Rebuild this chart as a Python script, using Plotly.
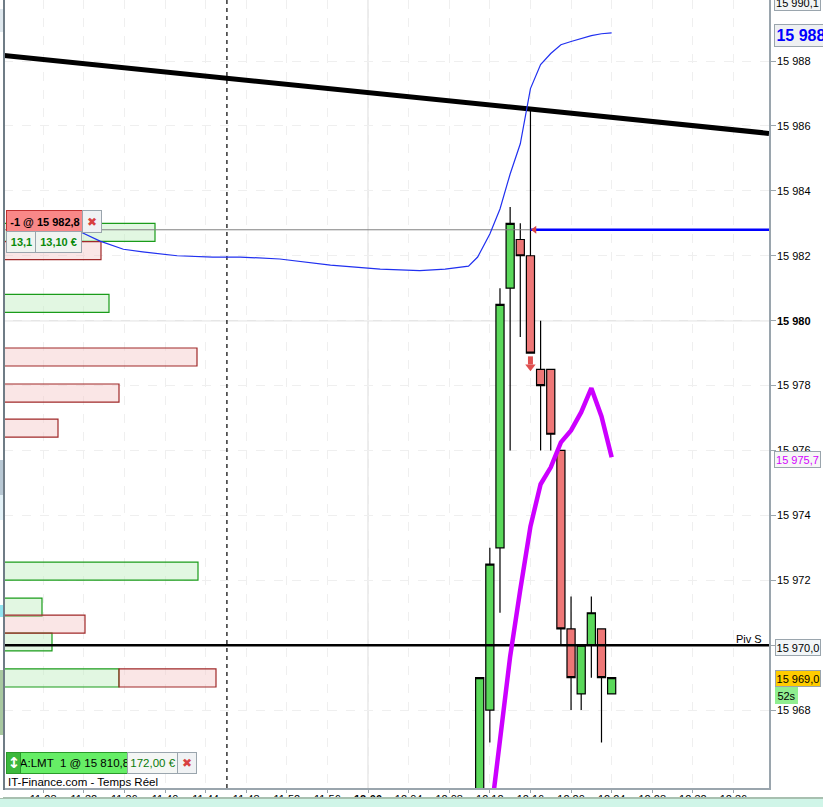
import plotly.graph_objects as go

# ---- data ----
candle_times = [731, 732, 733, 734, 735, 736, 737, 738, 739, 740, 741, 742, 743, 744]
candle_open  = [15964, 15968, 15973, 15981, 15982.5, 15982, 15978.5, 15978.5, 15976, 15970.5, 15968.5, 15970, 15970.5, 15968.5]
candle_high  = [15969, 15973, 15981, 15983.5, 15983, 15986.5, 15980, 15978.5, 15976, 15971.5, 15970, 15971.5, 15970.5, 15969]
candle_low   = [15963, 15967, 15971, 15976, 15979.5, 15979, 15976, 15976, 15970, 15968, 15968, 15969, 15967, 15968.5]
candle_close = [15969, 15972.5, 15980.5, 15983, 15982, 15979, 15978, 15976.5, 15970.5, 15969, 15970, 15971, 15969, 15969]

blue_times = [691.7, 693.6, 695.9, 697.8, 701.2, 704.7, 707.4, 711.3, 716.3, 721.2, 725.1, 727.6, 729.9, 730.8,
              732, 733, 734, 735, 736, 737, 738, 739, 740, 741, 742, 743, 744]
blue_vals = [15982.73, 15982.45, 15982.2, 15982.12, 15982.0, 15981.96, 15981.96, 15981.90, 15981.71, 15981.59,
             15981.54, 15981.59, 15981.68, 15981.96, 15982.67, 15983.44, 15984.52, 15985.45, 15987.15, 15987.89,
             15988.23, 15988.50, 15988.60, 15988.69, 15988.78, 15988.84, 15988.87]

magenta_times = [732, 733, 734, 735, 736, 737, 738, 739, 740, 741, 742, 743, 744]
magenta_vals = [15964.5, 15966.96, 15969.65, 15971.71, 15973.66, 15974.96, 15975.48, 15976.25, 15976.62, 15977.18,
                15977.92, 15977.05, 15975.79]

trend_times = [684.14, 759.5]
trend_vals = [15988.17, 15985.77]

green_levels = [15982.72, 15980.53, 15972.28, 15971.17, 15970.1, 15968.99]
green_volumes = [151, 105, 194, 38, 48, 115]
red_levels = [15982.16, 15978.88, 15977.77, 15976.69, 15970.65, 15968.99]
red_volumes = [97, 193, 115, 54, 81, 97]
red_bases = [0, 0, 0, 0, 0, 115]

y_ticks = [15968, 15970, 15972, 15974, 15976, 15978, 15980, 15982, 15984, 15986, 15988]
y_labels = ["15 968", "15 970", "15 972", "15 974", "15 976", "15 978", "<b>15 980</b>", "15 982", "15 984", "15 986", "15 988"]
x_ticks = [688, 692, 696, 700, 704, 708, 712, 716, 720, 724, 728, 732, 736, 740, 744, 748, 752, 756]
x_labels = ["11:28", "11:32", "11:36", "11:40", "11:44", "11:48", "11:52", "11:56", "<b>12:00</b>", "12:04", "12:08",
            "12:12", "12:16", "12:20", "12:24", "12:28", "12:32", "12:36"]

order_price = 15982.8
pivot_price = 15970
cursor_time = 706.1
order_time = 736.0
exit_price = 15978.6

FONT = "Liberation Sans"
AXIS = "#9aa5ad"
W, H = 823, 807
L, R, T, B = 4, 54, 0, 19
PW = W - L - R
PH = H - T - B

def px(x):
    return (x - L) / PW

def py(y):
    return 1 - (y - T) / PH

fig = go.Figure()

fig.add_trace(go.Bar(orientation="h", y=green_levels, x=green_volumes, width=0.555, xaxis="x", yaxis="y",
                     marker=dict(color="rgba(190,238,190,0.45)", line=dict(color="#1a9c1a", width=1.2)), showlegend=False))
fig.add_trace(go.Bar(orientation="h", y=red_levels, x=red_volumes, base=red_bases, width=0.555, xaxis="x", yaxis="y",
                     marker=dict(color="rgba(245,200,200,0.45)", line=dict(color="#a02828", width=1.2)), showlegend=False))

fig.add_trace(go.Scatter(x=[cursor_time, cursor_time], y=[15965.6, 15989.9], mode="lines", xaxis="x2", yaxis="y",
                         line=dict(color="black", width=1.2, dash="4px,4px"), showlegend=False))
fig.add_trace(go.Scatter(x=[684.14, order_time], y=[order_price, order_price], mode="lines", xaxis="x2", yaxis="y",
                         line=dict(color="#808080", width=1), showlegend=False))
fig.add_trace(go.Scatter(x=[order_time, 759.5], y=[order_price, order_price], mode="lines", xaxis="x2", yaxis="y",
                         line=dict(color="#0000ff", width=2.5), showlegend=False))
fig.add_trace(go.Scatter(x=[684.14, 759.5], y=[pivot_price, pivot_price], mode="lines", xaxis="x2", yaxis="y",
                         line=dict(color="black", width=2.5), showlegend=False))

fig.add_trace(go.Candlestick(x=candle_times, open=candle_open, high=candle_high, low=candle_low, close=candle_close,
                             xaxis="x2", yaxis="y", whiskerwidth=0,
                             increasing=dict(fillcolor="#5ad85a", line=dict(color="black", width=1.2)),
                             decreasing=dict(fillcolor="#ee7777", line=dict(color="black", width=1.2)),
                             showlegend=False))

fig.add_trace(go.Scatter(x=trend_times, y=trend_vals, mode="lines", xaxis="x2", yaxis="y",
                         line=dict(color="black", width=5), showlegend=False))
fig.add_trace(go.Scatter(x=blue_times, y=blue_vals, mode="lines", xaxis="x2", yaxis="y",
                         line=dict(color="#2030f0", width=1.2), showlegend=False))
fig.add_trace(go.Scatter(x=magenta_times, y=magenta_vals, mode="lines", xaxis="x2", yaxis="y",
                         line=dict(color="#cc00ff", width=4.5), showlegend=False))
fig.add_trace(go.Scatter(x=[order_time + 0.4], y=[order_price], mode="markers", xaxis="x2", yaxis="y",
                         marker=dict(symbol="triangle-left", size=7, color="#d84040"), showlegend=False))
fig.add_trace(go.Scatter(x=[order_time, order_time], y=[exit_price + 0.3, exit_price + 0.05], mode="lines", xaxis="x2", yaxis="y",
                         line=dict(color="#e05050", width=5), showlegend=False))
fig.add_trace(go.Scatter(x=[order_time], y=[exit_price - 0.02], mode="markers", xaxis="x2", yaxis="y",
                         marker=dict(symbol="triangle-down", size=9, color="#e05050"), showlegend=False))

def edge(x0, x1, y0, y1, color):
    return dict(type="rect", xref="paper", x0=px(x0), x1=px(x1), yref="paper", y0=py(y1), y1=py(y0), layer="above",
                fillcolor=color, line=dict(width=0))

shapes = [
    dict(type="line", xref="paper", x0=0, x1=1, yref="y", y0=15980, y1=15980, layer="below",
         line=dict(color="#e6e6e6", width=1.5)),
    dict(type="line", xref="x2", x0=720, x1=720, yref="paper", y0=0, y1=1, layer="below",
         line=dict(color="#e6e6e6", width=1.5)),
    # bottom window band that truncates the time labels
    edge(0, W, 798, H + 2, "#d0f5e8"),
    edge(0, W, 797, 799, "#a8c0b0"),
    # left window edge
    edge(0, 3, 0, 798, "white"),
    edge(3, 5, 0, 790, "#6f7c86"),
    edge(0, 3, 9, 32, "#dfe8ee"),
    edge(0, 3, 460, 495, "#b8c8d4"),
    edge(0, 3, 495, 520, "#e4f2f8"),
    edge(0, 3, 605, 617, "#90e4f0"),
    edge(0, 3, 670, 735, "#a8c8a0"),
]

anns = []

def box(x0, y0, w, h, text, bg, fg="black", border="#9aa5ad", size=11, bold=False, family=FONT):
    anns.append(dict(xref="paper", yref="paper", x=px(x0), y=py(y0), xanchor="left", yanchor="top",
                     width=w, height=h, text=f"<b>{text}</b>" if bold else text, showarrow=False, align="center",
                     valign="middle", bgcolor=bg, bordercolor=border, borderwidth=1, borderpad=0,
                     font=dict(family=family, size=size, color=fg)))

def plain(x0, y0, text, size=11, fg="black"):
    anns.append(dict(xref="paper", yref="paper", x=px(x0), y=py(y0), xanchor="left", yanchor="top", text=text,
                     showarrow=False, borderpad=0, font=dict(family=FONT, size=size, color=fg)))

# right scale tags
box(774, -6, 45, 15, "15 990,1", "#f2f4f5")
box(774, 24, 52, 21, "15 988", "#eef0f2", fg="#0000ff", size=16, bold=True)
box(774, 451, 45, 15, "15 975,7", "#f6f6f6", fg="#d400ff")
box(775, 639, 44, 15, "15 970,0", "#f2f6f8")
box(775, 670, 44, 15, "15 969,0", "#ffcc00")
box(775, 687, 21, 15, "52s", "#90ee90", border="#90ee90")
plain(735, 632, "Piv S", size=11)

# open-position ticket
box(6, 210, 76, 21, "-1 @ 15 982,8", "#f98888", border="#c03030", bold=True)
box(82, 210, 18, 21, "✖", "#f0f2f4", fg="#d84040", size=12, family="DejaVu Sans")
box(6, 231, 29, 20, "<b>13,1</b>", "#f0f4f0", fg="#0a8a0a")
box(35, 231, 45, 20, "<b>13,10 €</b>", "#f0f4f0", fg="#0a8a0a")

# limit-order ticket
box(6, 752, 14, 20, "↕", "#3cb83c", fg="white", border="#2a9a2a", size=15, bold=True, family="DejaVu Sans")
box(20, 752, 107, 20, "A:LMT  1 @ 15 810,8", "#66ee66", border="#2a9a2a", size=11.5)
box(127, 752, 50, 20, "172,00 €", "#f4f6f4", fg="#0a7a0a", size=11.5)
box(177, 752, 18, 20, "✖", "#f0f2f4", fg="#d84040", size=12, family="DejaVu Sans")
plain(7, 775, "IT-Finance.com - Temps Réel", size=11.5)

fig.update_layout(
    width=W, height=H, margin=dict(l=L, r=R, t=T, b=B, autoexpand=False),
    paper_bgcolor="white", plot_bgcolor="white", showlegend=False, boxgap=0.2, boxgroupgap=0,
    barmode="overlay", shapes=shapes, annotations=anns,
    font=dict(family=FONT, size=11, color="black"),
    xaxis=dict(range=[0, PW], visible=False, showgrid=False, fixedrange=True),
    xaxis2=dict(overlaying="x", anchor="y", side="bottom", range=[684.14, 759.5], tickmode="array",
                tickvals=x_ticks, ticktext=x_labels, ticks="outside", ticklen=3, tickcolor=AXIS, showline=True,
                linecolor=AXIS, linewidth=1.5, showgrid=True, gridcolor="#efefef", griddash="dash", gridwidth=1,
                rangeslider=dict(visible=False), zeroline=False, tickfont=dict(family=FONT, size=11), tickangle=0,
                ticklabelstandoff=-3),
    yaxis=dict(side="right", anchor="x", range=[15965.6, 15989.88], tickmode="array", tickvals=y_ticks,
               ticktext=y_labels, ticks="outside", ticklen=5, tickcolor=AXIS, showline=True, linecolor=AXIS,
               linewidth=1.5, showgrid=True, gridcolor="#efefef", griddash="dash", gridwidth=1, zeroline=False,
               tickfont=dict(family=FONT, size=11), ticklabelstandoff=-1),
)

fig.write_html("out.html", config=dict(displayModeBar=False),
               post_script="document.body.style.margin='0';document.documentElement.style.overflow='hidden';")
